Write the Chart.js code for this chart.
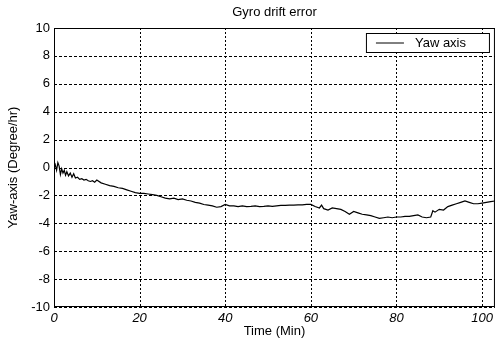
<!DOCTYPE html>
<html>
<head>
<meta charset="utf-8">
<script src="https://cdn.jsdelivr.net/npm/chart.js@4/dist/chart.umd.min.js"></script>
<style>
  html, body { margin: 0; padding: 0; background: #fff; }
  #wrap { width: 497px; height: 341px; position: relative; }
</style>
</head>
<body>
<div id="wrap"><canvas id="chart"></canvas></div>
<script>
// time in minutes
const timeMin = [
  0, 0.3, 0.6, 0.9, 1.2, 1.5, 1.8, 2.1, 2.4, 2.7, 3.0, 3.4, 3.8, 4.2, 4.6, 5.0,
  5.5, 6, 6.5, 7, 7.5, 8, 8.5, 9, 9.5, 10, 11, 12, 13, 14, 15, 16, 17, 18, 19, 20,
  21, 22, 23, 24, 25, 26, 27, 28, 29, 30, 31, 32, 33, 34, 35, 36, 37, 38, 39, 40,
  41, 42, 43, 44, 45, 46, 47, 48, 49, 50, 51, 52, 53, 54, 55, 56, 57, 58, 59, 60,
  61, 62, 62.5, 63, 64, 65, 66, 67, 68, 69, 70, 71, 72, 73, 74, 75, 76, 77, 78, 79, 80,
  81, 82, 83, 84, 85, 86, 87, 88, 88.5, 89, 90, 91, 92, 93, 94, 95, 96, 97, 98, 99, 100,
  101, 102, 103
]
// yaw drift (degree/hr)
const yawDrift = [
  -0.1, 0.2, -0.2, 0.35, 0.1, -0.5, -0.1, -0.4, -0.2, -0.55, -0.3, -0.6, -0.4, -0.7, -0.45, -0.75,
  -0.7, -0.85, -0.8, -0.9, -0.85, -0.95, -1.0, -0.95, -1.05, -0.9, -1.1, -1.2, -1.3, -1.35, -1.45, -1.5, -1.6, -1.7, -1.8, -1.85,
  -1.85, -1.9, -1.95, -2.0, -2.1, -2.2, -2.25, -2.2, -2.3, -2.25, -2.35, -2.4, -2.5, -2.55, -2.65, -2.7, -2.75, -2.85, -2.8, -2.65,
  -2.75, -2.75, -2.8, -2.75, -2.8, -2.78, -2.75, -2.8, -2.78, -2.75, -2.78, -2.75, -2.72, -2.72, -2.7, -2.7, -2.68, -2.68, -2.65, -2.65,
  -2.8, -2.9, -2.7, -2.95, -3.05, -2.9, -2.95, -3.0, -3.15, -3.35, -3.15, -3.25, -3.35, -3.4, -3.45, -3.55, -3.65, -3.6, -3.55, -3.6, -3.55,
  -3.55, -3.5, -3.5, -3.45, -3.4, -3.55, -3.6, -3.55, -3.1, -3.2, -3.0, -3.05, -2.8, -2.7, -2.6, -2.5, -2.4, -2.5, -2.6, -2.6, -2.55,
  -2.5, -2.45, -2.4
]
const yTicks = [-10, -8, -6, -4, -2, 0, 2, 4, 6, 8, 10]
const xTicks = [0, 20, 40, 60, 80, 100]

const FONT = 'Liberation Sans, Arial, sans-serif'

// dotted matlab grid, drawn from the scales
const gridPlugin = {
  id: 'dottedGrid',
  beforeDatasetsDraw(chart) {
    const { ctx, chartArea: a, scales } = chart
    ctx.save()
    ctx.strokeStyle = '#000'
    ctx.lineWidth = 1
    ctx.setLineDash([3, 2])
    for (let v of yTicks) {
      const y = Math.round(scales.y.getPixelForValue(v)) + 0.5
      ctx.beginPath()
      ctx.moveTo(a.left, y)
      ctx.lineTo(a.right, y)
      ctx.stroke()
    }
    ctx.setLineDash([2, 2])
    for (let v of xTicks) {
      const x = Math.round(scales.x.getPixelForValue(v)) + 0.5
      ctx.beginPath()
      ctx.moveTo(x, a.top)
      ctx.lineTo(x, a.bottom)
      ctx.stroke()
    }
    ctx.restore()
  }
}

// title, frame and boxed legend like the matlab figure
const figurePlugin = {
  id: 'figure',
  afterDraw(chart) {
    const { ctx, chartArea: a } = chart
    ctx.save()
    ctx.strokeStyle = '#000'
    ctx.lineWidth = 1
    ctx.strokeRect(a.left + 0.5, a.top + 0.5, a.right - a.left - 1, a.bottom - a.top - 1)

    ctx.fillStyle = '#000'
    ctx.font = '13px ' + FONT
    ctx.textAlign = 'center'
    ctx.textBaseline = 'middle'
    ctx.fillText('Gyro drift error', (a.left + a.right) / 2, 12)

    // legend
    const bx = a.right - 129, by = a.top + 5, bw = 123, bh = 19
    ctx.fillStyle = '#fff'
    ctx.fillRect(bx, by, bw, bh)
    ctx.strokeRect(bx + 0.5, by + 0.5, bw, bh)
    ctx.beginPath()
    ctx.moveTo(bx + 10, by + 10)
    ctx.lineTo(bx + 38, by + 10)
    ctx.stroke()
    ctx.fillStyle = '#000'
    ctx.textAlign = 'left'
    ctx.fillText(chart.data.datasets[0].label, bx + 49, by + 10)
    ctx.restore()
  }
}

const hiddenGrid = { display: true, drawTicks: false, drawOnChartArea: false, color: 'rgba(0,0,0,0)' }

new Chart(document.getElementById('chart'), {
  type: 'line',
  data: {
    datasets: [
      {
        label: 'Yaw axis',
        data: timeMin.map((t, i) => ({ x: t, y: yawDrift[i] })),
        borderColor: '#000',
        borderWidth: 1.2,
        pointRadius: 0,
        tension: 0,
        fill: false,
      },
    ],
  },
  options: {
    responsive: true,
    maintainAspectRatio: false,
    animation: false,
    layout: { padding: { top: 28, right: 2, left: 0, bottom: 0 } },
    plugins: {
      legend: { display: false },
      title: { display: false },
      tooltip: { enabled: false },
    },
    scales: {
      x: {
        type: 'linear',
        min: 0,
        max: 103,
        afterBuildTicks: (s) => { s.ticks = xTicks.map((v) => ({ value: v })) },
        afterFit: (s) => { s.height = 34 },
        grid: hiddenGrid,
        border: { display: false },
        ticks: { color: '#000', padding: 4, font: { family: FONT, size: 13, style: 'italic' }, maxRotation: 0 },
        title: { display: true, text: 'Time (Min)', color: '#000', padding: { top: 0, bottom: 2 }, font: { family: FONT, size: 13 } },
      },
      y: {
        min: -10,
        max: 10,
        afterBuildTicks: (s) => { s.ticks = yTicks.map((v) => ({ value: v })) },
        afterFit: (s) => { s.width = 54 },
        grid: hiddenGrid,
        border: { display: false },
        ticks: { color: '#000', padding: 4, font: { family: FONT, size: 13 } },
        title: { display: true, text: 'Yaw-axis (Degree/hr)', color: '#000', padding: { top: 6, bottom: 0 }, font: { family: FONT, size: 13 } },
      },
    },
  },
  plugins: [gridPlugin, figurePlugin],
})
</script>
</body>
</html>
